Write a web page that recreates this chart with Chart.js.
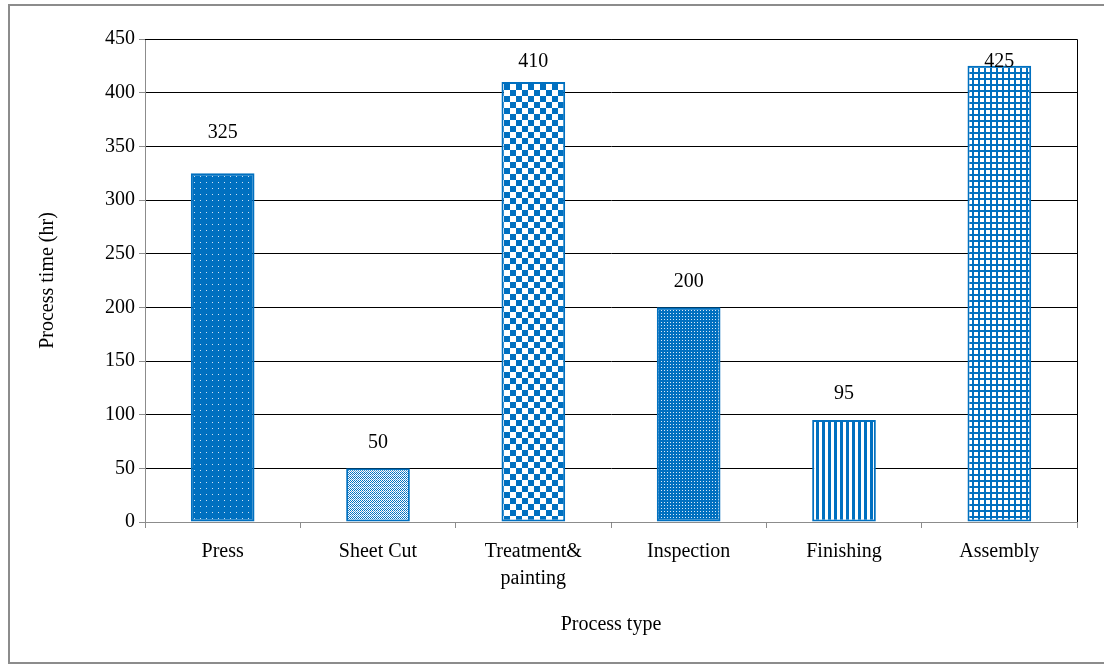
<!DOCTYPE html>
<html>
<head>
<meta charset="utf-8">
<script src="https://cdn.jsdelivr.net/npm/chart.js@4.4.0/dist/chart.umd.min.js"></script>
<style>
  html, body { margin: 0; padding: 0; background: #fff; }
  #wrap { width: 1104px; height: 666px; position: relative; }
</style>
</head>
<body>
<div id="wrap"><canvas id="c" width="1104" height="666"></canvas></div>
<script>
'use strict';

// ── Data ──
const categories = ['Press', 'Sheet Cut', ['Treatment&', 'painting'], 'Inspection', 'Finishing', 'Assembly'];
const processHours = [325, 50, 410, 200, 95, 425];
const patternKinds = ['dots', 'diamond', 'checker', 'dense', 'stripes', 'grid'];
const yTicks = [0, 50, 100, 150, 200, 250, 300, 350, 400, 450];

const BLUE = '#0070c0';
const SERIF = '"Liberation Serif", "Times New Roman", serif';
// label gap above each bar top (px); the Press label sits a bit higher in the original
const labelGap = [40, 26, 26, 26, 26, 26];

// ── Pattern fills, one small tile per bar ──
function makePattern(kind) {
  const t = document.createElement('canvas');
  const g = t.getContext('2d');
  let n = 6;
  if (kind === 'dots') {
    n = 6; t.width = t.height = n;
    g.fillStyle = BLUE; g.fillRect(0, 0, n, n);
    g.fillStyle = '#cfe3f5'; g.fillRect(2, 2, 1, 1);
  } else if (kind === 'diamond') {
    n = 4; t.width = t.height = n;
    g.fillStyle = '#ffffff'; g.fillRect(0, 0, n, n);
    g.fillStyle = BLUE;
    g.fillRect(0, 0, 1, 1); g.fillRect(2, 0, 1, 1);
    g.fillRect(1, 1, 1, 1); g.fillRect(3, 1, 1, 1);
    g.fillRect(0, 2, 1, 1); g.fillRect(2, 2, 1, 1);
    g.fillStyle = '#4f9ad6'; g.fillRect(1, 3, 1, 1); g.fillRect(3, 3, 1, 1);
  } else if (kind === 'checker') {
    n = 12; t.width = t.height = n;
    g.fillStyle = '#ffffff'; g.fillRect(0, 0, n, n);
    g.fillStyle = BLUE; g.fillRect(0, 0, 6, 6); g.fillRect(6, 6, 6, 6);
  } else if (kind === 'dense') {
    n = 3; t.width = t.height = n;
    g.fillStyle = BLUE; g.fillRect(0, 0, n, n);
    g.fillStyle = '#d8e8f6'; g.fillRect(1, 1, 1, 1);
  } else if (kind === 'stripes') {
    n = 6; t.width = t.height = n;
    g.fillStyle = '#ffffff'; g.fillRect(0, 0, n, n);
    g.fillStyle = BLUE; g.fillRect(0, 0, 3, n);
  } else {
    n = 6; t.width = t.height = n;
    g.fillStyle = '#ffffff'; g.fillRect(0, 0, n, n);
    g.fillStyle = BLUE; g.fillRect(0, 0, 2, n); g.fillRect(0, 0, n, 2);
  }
  return document.getElementById('c').getContext('2d').createPattern(t, 'repeat');
}

// ── Outer frame, plot box and value labels ──
const framePlugin = {
  id: 'frame',
  beforeDraw(chart) {
    const ctx = chart.ctx;
    ctx.save();
    ctx.fillStyle = '#fff';
    ctx.fillRect(0, 0, chart.width, chart.height);
    ctx.strokeStyle = '#8c8c8c';
    ctx.lineWidth = 2;
    ctx.strokeRect(9, 5, chart.width + 20, chart.height - 8);
    ctx.restore();
  },
  afterDatasetsDraw(chart) {
    const ctx = chart.ctx;
    const a = chart.chartArea;
    ctx.save();
    ctx.strokeStyle = '#000';
    ctx.lineWidth = 1;
    ctx.beginPath();
    ctx.moveTo(a.left, a.top + 0.5);
    ctx.lineTo(a.right + 0.5, a.top + 0.5);
    ctx.lineTo(a.right + 0.5, a.bottom);
    ctx.stroke();
    const meta = chart.getDatasetMeta(0);
    ctx.fillStyle = '#000';
    ctx.font = '20px ' + SERIF;
    ctx.textAlign = 'center';
    ctx.textBaseline = 'middle';
    meta.data.forEach((bar, i) => {
      // keep labels inside the plot box, as the spreadsheet does
      const y = Math.max(bar.y - labelGap[i], a.top + 23);
      ctx.fillText(String(processHours[i]), bar.x, y);
    });
    ctx.restore();
  }
};

new Chart(document.getElementById('c'), {
  type: 'bar',
  data: {
    labels: categories,
    datasets: [{
      data: processHours,
      backgroundColor: patternKinds.map(makePattern),
      borderColor: BLUE,
      borderWidth: 2,
      borderSkipped: false,
      categoryPercentage: 1,
      barPercentage: 0.41,
    }]
  },
  options: {
    responsive: false,
    animation: false,
    layout: { padding: { left: 0, right: 27, top: 39, bottom: 0 } },
    plugins: { legend: { display: false }, tooltip: { enabled: false } },
    scales: {
      x: {
        grid: { display: true, drawOnChartArea: false, offset: true, color: '#8c8c8c', tickLength: 6 },
        border: { color: '#8c8c8c' },
        ticks: { color: '#000', font: { family: SERIF, size: 20, lineHeight: 1.35 }, padding: 10, maxRotation: 0, autoSkip: false },
        title: { display: true, text: 'Process type', color: '#000', font: { family: SERIF, size: 20 }, padding: { top: 0, bottom: 29 } },
        afterFit(s) { s.height = 666 - 522; }
      },
      y: {
        min: 0, max: 450,
        afterBuildTicks(s) { s.ticks = yTicks.map(v => ({ value: v })); },
        grid: { color: '#000', lineWidth: 1, tickLength: 6, tickColor: '#8c8c8c' },
        border: { color: '#8c8c8c' },
        ticks: { color: '#000', font: { family: SERIF, size: 20 }, padding: 4 },
        title: { display: true, text: 'Process time (hr)', color: '#000', font: { family: SERIF, size: 20 }, padding: { top: 36, bottom: 6 } },
        afterFit(s) { s.width = 145; }
      }
    }
  },
  plugins: [framePlugin]
});
</script>
</body>
</html>
